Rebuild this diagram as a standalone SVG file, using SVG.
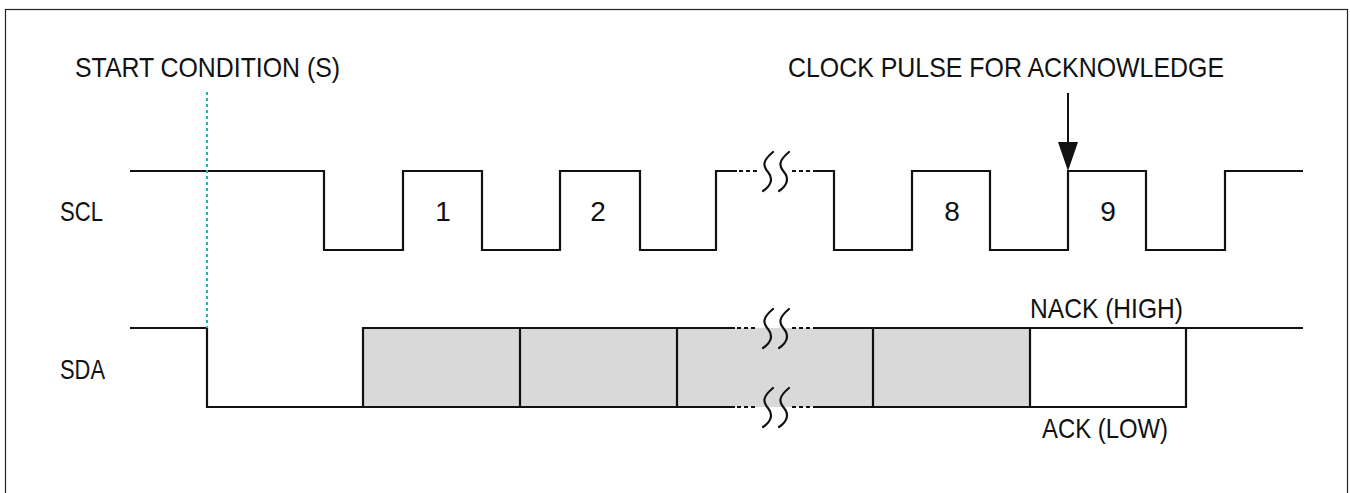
<svg xmlns="http://www.w3.org/2000/svg" width="1350" height="493" viewBox="0 0 1350 493">
<style>
.t{font-family:"Liberation Sans",Arial,sans-serif;font-size:28px;fill:#111}
.w{fill:none;stroke:#111;stroke-width:2.2;stroke-linejoin:miter}
.sq{fill:none;stroke:#111;stroke-width:2.2;stroke-linecap:round}
.dot{fill:none;stroke:#111;stroke-width:2.2;stroke-dasharray:4 3}
</style>
<defs>
<path id="s1" d="M 6,0 C -5,9 -4,14 1,20 C 6,26 5,33 -4,39"/>
</defs>
<rect x="5.5" y="9.5" width="1342" height="490" fill="#fff" stroke="#222" stroke-width="1.2"/>

<g id="labels">
<text class="t" x="75" y="77" textLength="265" lengthAdjust="spacingAndGlyphs">START CONDITION (S)</text>
<text class="t" x="788" y="77" textLength="436" lengthAdjust="spacingAndGlyphs">CLOCK PULSE FOR ACKNOWLEDGE</text>
<text class="t" x="60" y="221" textLength="43" lengthAdjust="spacingAndGlyphs">SCL</text>
<text class="t" x="60" y="379" textLength="45" lengthAdjust="spacingAndGlyphs">SDA</text>
<text class="t" x="1030" y="318" textLength="153" lengthAdjust="spacingAndGlyphs">NACK (HIGH)</text>
<text class="t" x="1042" y="438" textLength="126" lengthAdjust="spacingAndGlyphs">ACK (LOW)</text>
</g>

<g id="scl">
<polyline class="w" points="130,171 324,171 324,250 403,250 403,171 482,171 482,250 560,250 560,171 640,171 640,250 716,250 716,171 737,171"/>
<line class="dot" x1="739" y1="171" x2="758" y2="171"/>
<line class="dot" x1="792" y1="171" x2="812" y2="171"/>
<polyline class="w" points="813,171 834,171 834,250 912,250 912,171 990,171 990,250 1068,250 1068,171 1146,171 1146,250 1225,250 1225,171 1303,171"/>
<use href="#s1" class="sq" x="767" y="152"/>
<use href="#s1" class="sq" x="783" y="152"/>
<text class="t" x="443" y="221" text-anchor="middle">1</text>
<text class="t" x="598" y="221" text-anchor="middle">2</text>
<text class="t" x="952" y="221" text-anchor="middle">8</text>
<text class="t" x="1108" y="221" text-anchor="middle">9</text>
</g>

<g id="sda">
<rect x="363" y="328" width="667" height="79" fill="#d9d9d9"/>
<polyline class="w" points="130,328 207,328 207,407 735,407"/>
<polyline class="w" points="363,407 363,328 735,328"/>
<line class="dot" x1="737" y1="328" x2="758" y2="328"/>
<line class="dot" x1="737" y1="407" x2="758" y2="407"/>
<line class="dot" x1="792" y1="328" x2="812" y2="328"/>
<line class="dot" x1="792" y1="407" x2="812" y2="407"/>
<polyline class="w" points="813,328 1303,328"/>
<polyline class="w" points="813,407 1186,407 1186,328"/>
<line class="w" x1="520" y1="328" x2="520" y2="407"/>
<line class="w" x1="677" y1="328" x2="677" y2="407"/>
<line class="w" x1="873" y1="328" x2="873" y2="407"/>
<line class="w" x1="1030" y1="328" x2="1030" y2="407"/>
<use href="#s1" class="sq" x="767" y="309"/>
<use href="#s1" class="sq" x="783" y="309"/>
<use href="#s1" class="sq" x="767" y="388"/>
<use href="#s1" class="sq" x="783" y="388"/>
</g>

<g id="connectors">
<line x1="207" y1="92" x2="207" y2="328" stroke="#2ab3ad" stroke-width="2" stroke-dasharray="3 3"/>
<line x1="1068" y1="93" x2="1068" y2="145" stroke="#111" stroke-width="2"/>
<polygon points="1058,142 1078,142 1068,171" fill="#111"/>
</g>
</svg>
